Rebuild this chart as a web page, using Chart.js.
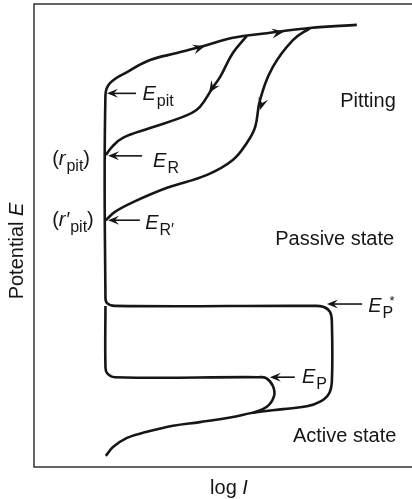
<!DOCTYPE html>
<html>
<head>
<meta charset="utf-8">
<script src="https://cdn.jsdelivr.net/npm/chart.js@4/dist/chart.umd.min.js"></script>
<style>
    html, body { margin: 0; padding: 0; background: #fff; }
    #wrap { width: 412px; height: 499px; position: relative; }
</style>
</head>
<body>
<div id="wrap"><canvas id="polarizationChart"></canvas></div>
<script>
// Schematic anodic polarization curve with a pitting hysteresis loop.
// x = log I, y = potential E, both in arbitrary units on 0-100 scales.

// forward sweep: active -> E_P* -> passive (vertical) -> pitting breakdown
const forwardSweep = [
    [19.0, 2.4], [20.9, 4.3], [24.6, 6.3], [29.9, 7.6], [36.8, 8.9], [43.9, 9.7],
    [52.6, 10.8], [57.9, 11.7], [65.9, 12.5], [72.2, 13.1], [75.7, 14.1], [78.0, 15.8],
    [78.8, 18.5], [78.8, 31.3], [78.3, 33.5], [76.5, 34.6], [73.8, 34.8], [21.4, 34.8],
    [19.3, 35.4], [18.9, 36.7], [18.9, 80.3], [20.1, 82.9], [24.6, 85.3], [30.7, 87.9],
    [37.8, 89.4], [43.9, 90.7], [52.6, 92.7], [61.6, 93.7], [73.0, 94.8], [85.4, 95.5]
];

// primary passivation nose at E_P
const passivationNose = [
    [57.9, 11.7], [61.6, 13.0], [63.5, 15.3], [63.2, 17.5], [61.4, 19.2], [59.3, 19.4],
    [21.4, 19.4], [19.3, 20.3], [18.9, 21.8], [18.9, 34.8]
];

// reverse sweeps back to the repassivation potentials
const reverseToER = [
    [56.3, 93.1], [52.6, 89.4], [49.2, 84.2], [47.4, 82.1], [43.9, 77.8], [40.5, 76.0],
    [30.7, 73.2], [23.5, 71.1], [20.6, 69.1], [19.0, 67.4]
];
const reverseToERprime = [
    [73.0, 94.8], [68.5, 92.2], [63.2, 86.4], [59.8, 79.3], [58.5, 73.4], [56.3, 70.0],
    [52.6, 66.3], [45.8, 63.1], [35.2, 60.3], [26.2, 57.2], [21.4, 55.1], [19.0, 53.3]
];

// sweep direction arrowheads: tip point and a point further along the curve
const sweepArrows = [
    { at: [45.2, 90.9], to: [52.6, 92.7] },
    { at: [66.1, 94.0], to: [73.0, 94.8] },
    { at: [46.3, 80.8], to: [43.9, 77.8] },
    { at: [59.8, 77.1], to: [58.5, 73.4] }
];

// potential markers: arrow from tail to tip at level E
const markerLevels = [80.7, 67.2, 53.3, 35.2, 19.4];
const markerTips = [19.3, 19.6, 19.6, 77.5, 62.4];
const markerTails = [27.0, 28.6, 28.0, 86.8, 69.0];

// text: [x, baseline y, parts]; part styles n=normal i=italic s=subscript sup=superscript
const labels = [
    [28.7, 79.3, [['E', 'i'], ['pit', 's']]],
    [31.5, 64.8, [['E', 'i'], ['R', 's']]],
    [29.4, 51.4, [['E', 'i'], ['R\u2032', 's']]],
    [88.4, 33.5, [['E', 'i'], ['P', 's'], ['*', 'sup']]],
    [70.9, 18.1, [['E', 'i'], ['P', 's']]],
    [4.8, 65.2, [['(', 'n'], ['r', 'i'], ['pit', 's'], [')', 'n']]],
    [4.8, 52.1, [['(', 'n'], ['r\u2032', 'i'], ['pit', 's'], [')', 'n']]],
    [81.0, 77.8, [['Pitting', 'n']]],
    [63.8, 47.9, [['Passive state', 'n']]],
    [68.5, 5.4, [['Active state', 'n']]]
];

const xTitle = [['log ', 'n'], ['I', 'i']];
const yTitle = [['Potential ', 'n'], ['E', 'i']];

const INK = '#161616';
const FAMILY = '"Liberation Sans", Arial, Helvetica, sans-serif';

function fontFor(style) {
    if (style === 'i') return 'italic 20px ' + FAMILY;
    if (style === 's') return '16px ' + FAMILY;
    if (style === 'sup') return '13px ' + FAMILY;
    return '20px ' + FAMILY;
}

function richWidth(ctx, parts) {
    let w = 0;
    parts.forEach(([t, st]) => {
        if (st === 'sup') return;
        ctx.font = fontFor(st);
        w += ctx.measureText(t).width;
    });
    return w;
}

function drawRich(ctx, parts, x, y) {
    let cx = x, lastSubX = x;
    parts.forEach(([t, st]) => {
        ctx.font = fontFor(st);
        const w = ctx.measureText(t).width;
        if (st === 's') {
            lastSubX = cx;
            ctx.fillText(t, cx, y + 6);
            cx += w;
        } else if (st === 'sup') {
            ctx.fillText(t, lastSubX + 7, y - 7);
        } else {
            ctx.fillText(t, cx, y);
            cx += st === 'i' ? w + 1 : w;
        }
    });
}

function arrowHead(ctx, x, y, angle, len, wid) {
    ctx.save();
    ctx.translate(x, y);
    ctx.rotate(angle);
    ctx.beginPath();
    ctx.moveTo(0, 0);
    ctx.lineTo(-len, -wid / 2);
    ctx.lineTo(-len * 0.62, 0);
    ctx.lineTo(-len, wid / 2);
    ctx.closePath();
    ctx.fill();
    ctx.restore();
}

const schematicPlugin = {
    id: 'schematic',
    afterDatasetsDraw(chart) {
        const { ctx, chartArea, scales } = chart;
        const px = (v) => scales.x.getPixelForValue(v);
        const py = (v) => scales.y.getPixelForValue(v);
        ctx.save();
        ctx.fillStyle = INK;
        ctx.strokeStyle = INK;

        // frame: top, left and bottom edges
        ctx.lineWidth = 1.5;
        ctx.strokeStyle = '#333';
        ctx.beginPath();
        ctx.moveTo(chart.width, chartArea.top);
        ctx.lineTo(chartArea.left, chartArea.top);
        ctx.lineTo(chartArea.left, chartArea.bottom);
        ctx.lineTo(chart.width, chartArea.bottom);
        ctx.stroke();
        ctx.strokeStyle = INK;

        sweepArrows.forEach((a) => {
            const x0 = px(a.at[0]), y0 = py(a.at[1]);
            const ang = Math.atan2(py(a.to[1]) - y0, px(a.to[0]) - x0);
            arrowHead(ctx, x0, y0, ang, 12, 10);
        });

        ctx.lineWidth = 1.6;
        markerLevels.forEach((lvl, i) => {
            const y = py(lvl), xt = px(markerTips[i]), xs = px(markerTails[i]);
            ctx.beginPath();
            ctx.moveTo(xs, y);
            ctx.lineTo(xt + 6, y);
            ctx.stroke();
            arrowHead(ctx, xt, y, Math.PI, 11, 9);
        });

        ctx.textBaseline = 'alphabetic';
        labels.forEach(([x, y, parts]) => drawRich(ctx, parts, px(x), py(y)));

        // axis titles
        const xw = richWidth(ctx, xTitle);
        drawRich(ctx, xTitle, chartArea.left + 195 - xw / 2, chartArea.bottom + 27);
        ctx.save();
        ctx.translate(chartArea.left - 11, chartArea.top + 247);
        ctx.rotate(-Math.PI / 2);
        const yw = richWidth(ctx, yTitle);
        drawRich(ctx, yTitle, -yw / 2, 0);
        ctx.restore();

        ctx.restore();
    }
};

function curve(points) {
    return {
        data: points.map(([x, y]) => ({ x, y })),
        showLine: true,
        borderColor: INK,
        borderWidth: 2.6,
        pointRadius: 0,
        fill: false,
        tension: 0.4
    };
}

new Chart(document.getElementById('polarizationChart').getContext('2d'), {
    type: 'scatter',
    data: {
        datasets: [curve(forwardSweep), curve(passivationNose), curve(reverseToER), curve(reverseToERprime)]
    },
    options: {
        responsive: true,
        maintainAspectRatio: false,
        animation: false,
        layout: { padding: { left: 34, top: 4, right: 0, bottom: 32 } },
        plugins: { legend: { display: false }, tooltip: { enabled: false } },
        scales: {
            x: { type: 'linear', min: 0, max: 100, display: false },
            y: { type: 'linear', min: 0, max: 100, display: false }
        }
    },
    plugins: [schematicPlugin]
});
</script>
</body>
</html>
